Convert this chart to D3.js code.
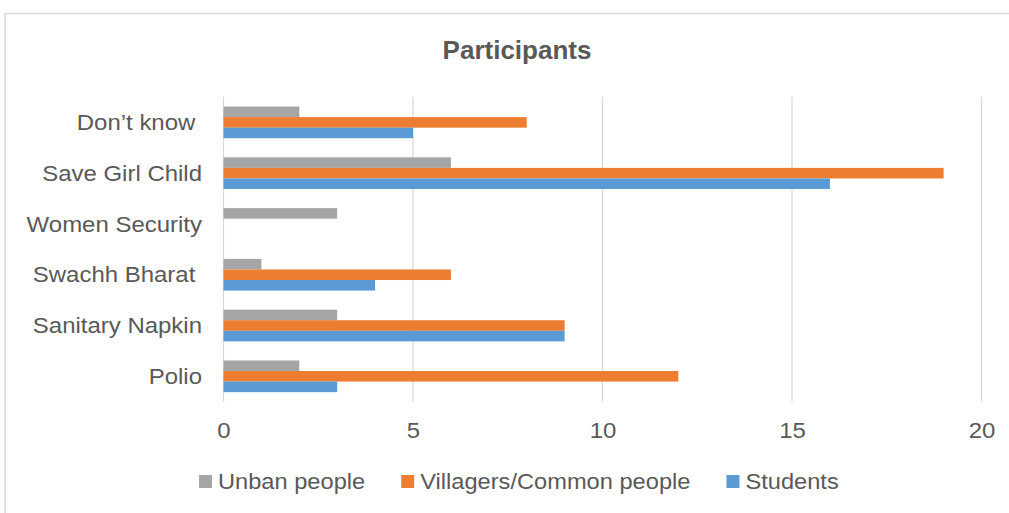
<!DOCTYPE html>
<html>
<head>
<meta charset="utf-8">
<script src="https://cdn.jsdelivr.net/npm/d3@7"></script>
<style>
  html, body { margin: 0; padding: 0; background: #ffffff; }
  svg { display: block; }
  text { font-family: Arial, "Liberation Sans", sans-serif; fill: #595959; white-space: pre; }
</style>
</head>
<body>
<svg id="chart" width="1009" height="513"></svg>
<script>
// ---- data ----
const categories = ["Don\u2019t know ", "Save Girl Child", "Women Security", "Swachh Bharat ", "Sanitary Napkin", "Polio"];
const seriesNames = ["Unban people", "Villagers/Common people", "Students"];
const urbanValues = [2, 6, 3, 1, 3, 2];
const villagerValues = [8, 19, 0, 6, 9, 12];
const studentValues = [5, 16, 0, 4, 9, 3];
const seriesColors = ["#A5A5A5", "#ED7D31", "#5B9BD5"];
const xTicks = [0, 5, 10, 15, 20];
const title = "Participants";

const seriesValues = [urbanValues, villagerValues, studentValues];
const rows = [];
categories.forEach((c, i) => {
  seriesNames.forEach((s, j) => rows.push({cat: c, series: s, value: seriesValues[j][i], color: seriesColors[j]}));
});

// ---- layout ----
const svg = d3.select("#chart");
const stretch = 1.09;
const legendStretch = 1.075;
const plotLeft = 223.5, plotRight = 981.5, plotTop = 97, plotBottom = 401.7;

// chart border
svg.append("rect").attr("x", 5).attr("y", 13.5).attr("width", 1040).attr("height", 540)
  .attr("fill", "#ffffff").attr("stroke", "#d9d9d9").attr("stroke-width", 1.6);

const x = d3.scaleLinear().domain([0, 20]).range([plotLeft, plotRight]);
const y = d3.scaleBand().domain(categories).range([plotTop, plotBottom]).paddingInner(0.376).paddingOuter(0.188);
const yInner = d3.scaleBand().domain(seriesNames).range([0, y.bandwidth()]);

// gridlines
svg.append("g").selectAll("line").data(xTicks).join("line")
  .attr("x1", d => x(d)).attr("x2", d => x(d))
  .attr("y1", plotTop).attr("y2", plotBottom)
  .attr("stroke", "#d9d9d9").attr("stroke-width", 1.3);

// bars
svg.append("g").selectAll("rect").data(rows).join("rect")
  .attr("x", x(0))
  .attr("y", d => y(d.cat) + yInner(d.series))
  .attr("width", d => x(d.value) - x(0))
  .attr("height", yInner.bandwidth())
  .attr("fill", d => d.color);

// x axis labels
const xAxis = svg.append("g").attr("transform", `translate(0,${plotBottom})`)
  .call(d3.axisBottom(x).tickValues(xTicks).tickSize(0).tickPadding(0).tickFormat(d3.format("d")));
xAxis.select(".domain").remove();
xAxis.selectAll("text")
  .attr("y", 36.5).attr("dy", null)
  .attr("transform", `scale(${stretch},1)`)
  .style("font-size", "22px").style("fill", "#595959");

// y axis labels
const yAxis = svg.append("g").attr("transform", `translate(${plotLeft},0)`)
  .call(d3.axisLeft(y).tickSize(0).tickPadding(0));
yAxis.select(".domain").remove();
yAxis.selectAll("text")
  .attr("x", -21.5 / stretch).attr("dy", "0.35em")
  .attr("transform", `scale(${stretch},1)`)
  .style("font-size", "22px").style("fill", "#595959").style("white-space", "pre");

// title
svg.append("text").attr("x", 517).attr("y", 58.5).attr("text-anchor", "middle")
  .style("font-size", "26px").style("font-weight", "bold").text(title);

// legend
const legend = svg.append("g");
let lx = 199;
seriesNames.forEach((s, j) => {
  legend.append("rect").attr("x", lx).attr("y", 475).attr("width", 13).attr("height", 13).attr("fill", seriesColors[j]);
  const t = legend.append("text").attr("x", 0).attr("y", 0)
    .attr("transform", `translate(${lx + 19},489) scale(${legendStretch},1)`)
    .style("font-size", "22px").text(s);
  const w = t.node().getComputedTextLength() * legendStretch;
  lx += 19 + w + 36;
});
</script>
</body>
</html>
